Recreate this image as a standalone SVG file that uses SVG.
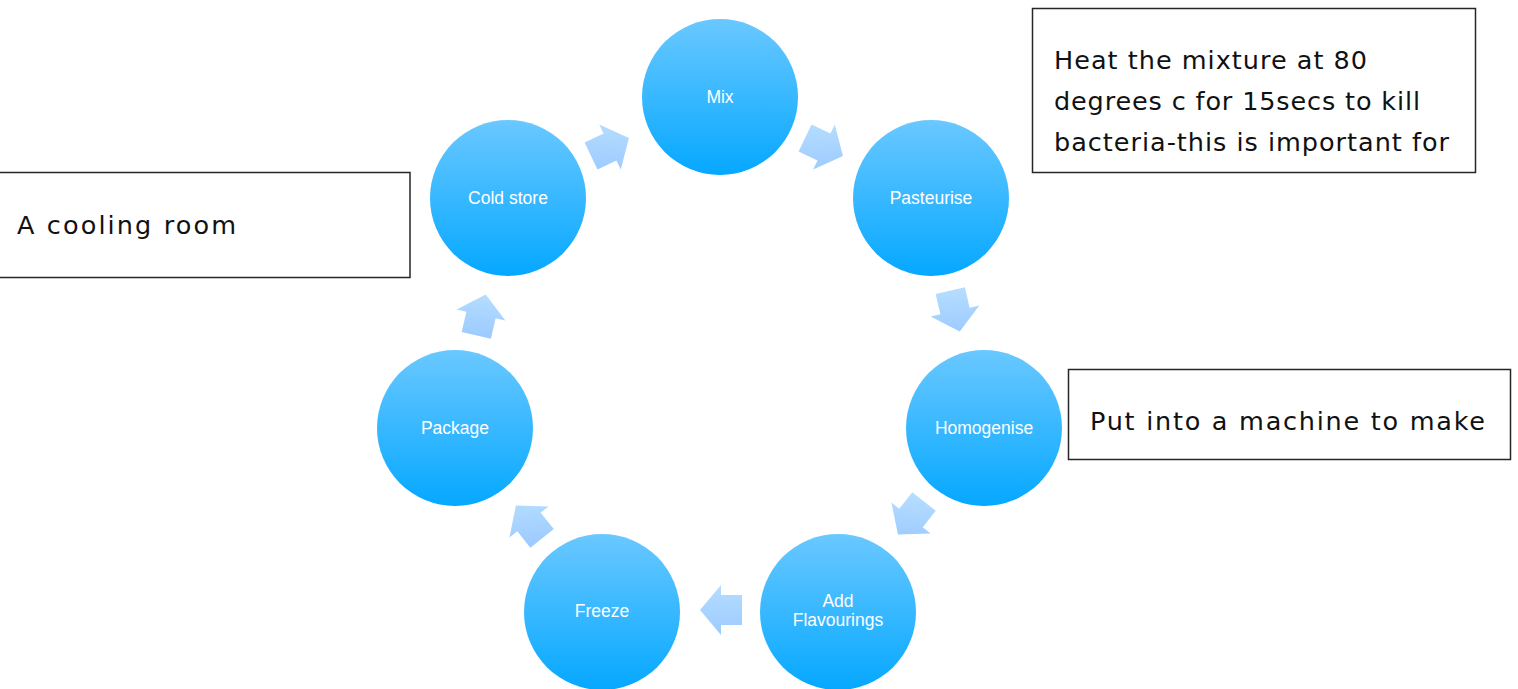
<svg xmlns="http://www.w3.org/2000/svg" xmlns:xlink="http://www.w3.org/1999/xlink" width="1518" height="689" viewBox="0 0 1518 689">
<defs>
<linearGradient id="cg" x1="0" y1="0" x2="0" y2="1">
<stop offset="0" stop-color="#6ac8ff"/>
<stop offset="1" stop-color="#05a8ff"/>
</linearGradient>
<linearGradient id="ag" x1="0" y1="0" x2="0" y2="1">
<stop offset="0" stop-color="#b5ddff"/>
<stop offset="1" stop-color="#9dcbff"/>
</linearGradient>
<linearGradient id="a1" href="#ag" xlink:href="#ag" gradientTransform="rotate(-25.6 .5 .5)"/>
<linearGradient id="a2" href="#ag" xlink:href="#ag" gradientTransform="rotate(-77 .5 .5)"/>
<linearGradient id="a3" href="#ag" xlink:href="#ag" gradientTransform="rotate(-128.4 .5 .5)"/>
<linearGradient id="a4" href="#ag" xlink:href="#ag" gradientTransform="rotate(-180 .5 .5)"/>
<linearGradient id="a5" href="#ag" xlink:href="#ag" gradientTransform="rotate(-231.4 .5 .5)"/>
<linearGradient id="a6" href="#ag" xlink:href="#ag" gradientTransform="rotate(-283 .5 .5)"/>
<linearGradient id="a7" href="#ag" xlink:href="#ag" gradientTransform="rotate(-334.5 .5 .5)"/>
<path id="arrow" d="M-21,-15 L0,-15 L0,-25 L21,0 L0,25 L0,15 L-21,15 Z"/>
</defs>
<style>
.c{fill:url(#cg)}
.ct{fill:#fff;font-family:"Liberation Sans",Arial,sans-serif;font-size:17.5px;text-anchor:middle}
.box{fill:#fff;stroke:#262626;stroke-width:1.5}
.bt{fill:#111;font-family:"DejaVu Sans","Liberation Sans",sans-serif;font-size:25.5px}
</style>
<rect width="1518" height="689" fill="#fff"/>
<g id="connectors">
<use href="#arrow" xlink:href="#arrow" fill="url(#a1)" transform="translate(824,147) rotate(25.6)"/>
<use href="#arrow" xlink:href="#arrow" fill="url(#a2)" transform="translate(955,311) rotate(77)"/>
<use href="#arrow" xlink:href="#arrow" fill="url(#a3)" transform="translate(911,518) rotate(128.4)"/>
<use href="#arrow" xlink:href="#arrow" fill="url(#a4)" transform="translate(721,610) rotate(180)"/>
<use href="#arrow" xlink:href="#arrow" fill="url(#a5)" transform="translate(529,522) rotate(231.4)"/>
<use href="#arrow" xlink:href="#arrow" fill="url(#a6)" transform="translate(481,315) rotate(283)"/>
<use href="#arrow" xlink:href="#arrow" fill="url(#a7)" transform="translate(610,147) rotate(334.5)"/>
</g>
<g id="mix"><circle class="c" cx="720" cy="97" r="78"/><text class="ct" x="720" y="103">Mix</text></g>
<g id="pasteurise"><circle class="c" cx="931" cy="198" r="78"/><text class="ct" x="931" y="204">Pasteurise</text></g>
<g id="homogenise"><circle class="c" cx="984" cy="428" r="78"/><text class="ct" x="984" y="434">Homogenise</text></g>
<g id="add-flavourings"><circle class="c" cx="838" cy="612" r="78"/><text class="ct" x="838" y="607">Add</text><text class="ct" x="838" y="626">Flavourings</text></g>
<g id="freeze"><circle class="c" cx="602" cy="612" r="78"/><text class="ct" x="602" y="617">Freeze</text></g>
<g id="package"><circle class="c" cx="455" cy="428" r="78"/><text class="ct" x="455" y="434">Package</text></g>
<g id="cold-store"><circle class="c" cx="508" cy="198" r="78"/><text class="ct" x="508" y="204">Cold store</text></g>
<g id="note-pasteurise"><rect class="box" x="1032.5" y="8.5" width="443" height="164"/>
<text class="bt" x="1054" y="69" textLength="313" lengthAdjust="spacing">Heat the mixture at 80</text>
<text class="bt" x="1054" y="110" textLength="366" lengthAdjust="spacing">degrees c for 15secs to kill</text>
<text class="bt" x="1054" y="151" textLength="395" lengthAdjust="spacing">bacteria-this is important for</text></g>
<g id="note-homogenise"><rect class="box" x="1068.5" y="369.5" width="442" height="90"/>
<text class="bt" x="1090" y="430" textLength="395" lengthAdjust="spacing">Put into a machine to make</text></g>
<g id="note-cold-store"><rect class="box" x="-5" y="172.5" width="415" height="105"/>
<text class="bt" x="17" y="234" textLength="219" lengthAdjust="spacing">A cooling room</text></g>
</svg>
